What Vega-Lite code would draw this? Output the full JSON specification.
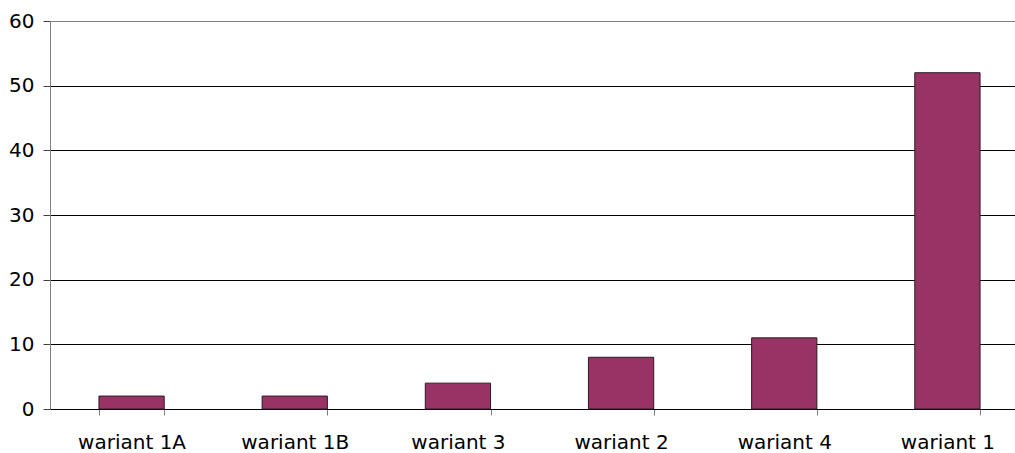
{
  "$schema": "https://vega.github.io/schema/vega-lite/v6.json",
  "autosize": {"type": "none"},
  "padding": {"left": 50, "top": 21, "right": 0, "bottom": 44},
  "width": 965,
  "height": 388,
  "background": "white",
  "config": {
    "view": {"stroke": null},
    "font": "DejaVu Sans"
  },
  "data": {
    "values": [
      {"wariant": "wariant 1A", "value": 2},
      {"wariant": "wariant 1B", "value": 2},
      {"wariant": "wariant 3", "value": 4},
      {"wariant": "wariant 2", "value": 8},
      {"wariant": "wariant 4", "value": 11},
      {"wariant": "wariant 1", "value": 52}
    ]
  },
  "mark": {"type": "bar", "fill": "#993366", "stroke": "#2b1a22", "strokeWidth": 1},
  "encoding": {
    "x": {
      "field": "wariant",
      "type": "nominal",
      "sort": null,
      "scale": {"range": [0, 979], "paddingInner": 0.6, "paddingOuter": 0.3},
      "axis": {
        "title": null,
        "labelAngle": 0,
        "labelFont": "DejaVu Sans",
        "labelFontSize": 20,
        "labelColor": "black",
        "labelPadding": 17,
        "domainColor": "black",
        "domainWidth": 1,
        "tickBand": "extent",
        "tickColor": "#808080",
        "tickSize": 6,
        "tickWidth": 1,
        "grid": false
      }
    },
    "y": {
      "field": "value",
      "type": "quantitative",
      "scale": {"domain": [0, 60], "nice": false},
      "axis": {
        "title": null,
        "values": [0, 10, 20, 30, 40, 50, 60],
        "labelFont": "DejaVu Sans",
        "labelFontSize": 20,
        "labelColor": "black",
        "labelPadding": 9,
        "domainColor": "#808080",
        "domainWidth": 1,
        "tickColor": "#404040",
        "tickSize": 7,
        "grid": true,
        "gridColor": {"condition": {"test": "datum.value === 60", "value": "#808080"}, "value": "black"},
        "gridWidth": 1,
        "gridOpacity": 1
      }
    }
  }
}
